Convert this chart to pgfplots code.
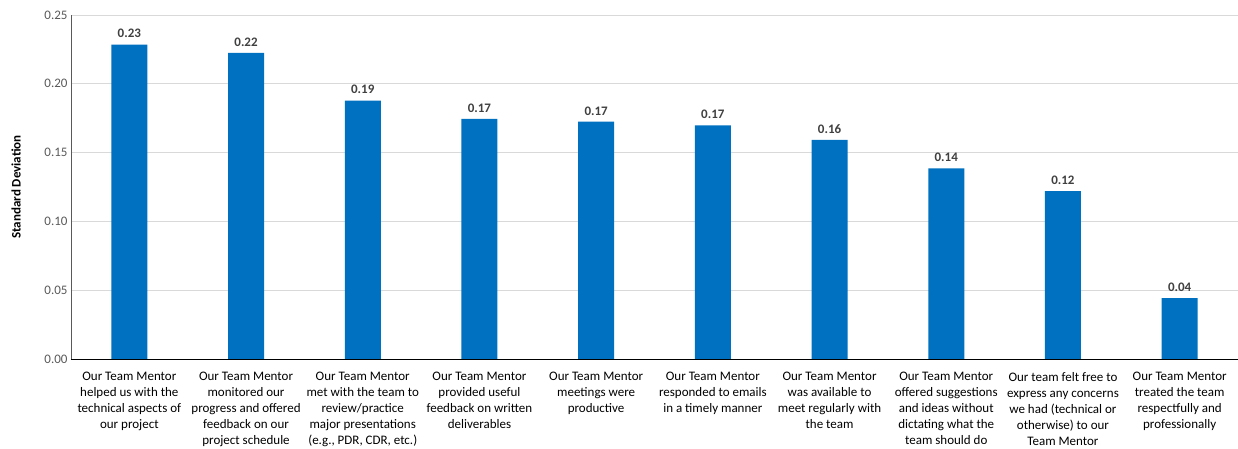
\documentclass[border=0pt]{standalone}
\usepackage{fontspec}
\setmainfont{Carlito}
\usepackage{pgfplots}
\pgfplotsset{compat=1.18}
\definecolor{barblue}{HTML}{0070C0}
\definecolor{gridgray}{HTML}{D9D9D9}
\definecolor{ticktext}{HTML}{595959}
\definecolor{labeltext}{HTML}{404040}
\begin{document}
\begin{tikzpicture}
\begin{axis}[
  name=ax, at={(0pt,0pt)}, anchor=south west,
  scale only axis, width=1167pt, height=344pt,
  xmin=-0.5, xmax=9.5, ymin=0, ymax=0.25,
  ytick={0,0.05,...,0.25},
  yticklabel style={/pgf/number format/fixed,/pgf/number format/fixed zerofill,/pgf/number format/precision=2, font=\fontsize{13}{15}\selectfont, text=ticktext},
  /pgf/number format/assume math mode=true,
  ymajorgrids, grid style={gridgray, line width=0.8pt},
  axis x line*=bottom, axis y line*=left,
  x axis line style={black, line width=0.8pt, -},
  y axis line style={ticktext, line width=0.8pt, -},
  major tick length=0pt,
  xtick={0,...,9},
  xticklabel style={font=\fontsize{13}{16}\selectfont, align=center, text=black, yshift=-10pt},
  xticklabels={
    {Our Team Mentor\\helped us with the\\technical aspects of\\our project},
    {Our Team Mentor\\monitored our\\progress and offered\\feedback on our\\project schedule},
    {Our Team Mentor\\met with the team to\\review/practice\\major presentations\\(e.g., PDR, CDR, etc.)},
    {Our Team Mentor\\provided useful\\feedback on written\\deliverables},
    {Our Team Mentor\\meetings were\\productive},
    {Our Team Mentor\\responded to emails\\in a timely manner},
    {Our Team Mentor\\was available to\\meet regularly with\\the team},
    {Our Team Mentor\\offered suggestions\\and ideas without\\dictating what the\\team should do},
    {Our team felt free to\\express any concerns\\we had (technical or\\otherwise) to our\\Team Mentor},
    {Our Team Mentor\\treated the team\\respectfully and\\professionally}
  },
  ylabel={\bfseries\fontsize{13}{15}\selectfont Standard Deviation},
  every axis y label/.style={at={(-55pt,0.5)}, rotate=90, anchor=center, text=black},
  nodes near coords,
  nodes near coords style={font=\bfseries\fontsize{13}{15}\selectfont, text=labeltext, /pgf/number format/fixed, /pgf/number format/fixed zerofill, /pgf/number format/precision=2, yshift=3pt},
  clip=false,
]
\addplot[ybar, bar width=36pt, fill=barblue, draw=none] coordinates {
  (0,0.2285) (1,0.2225) (2,0.1878) (3,0.1745) (4,0.1725)
  (5,0.1698) (6,0.1592) (7,0.1385) (8,0.1220) (9,0.0442)
};
\end{axis}
\pgfresetboundingbox
\path[use as bounding box] (-71pt,-90pt) rectangle (1167pt,359pt);
\end{tikzpicture}
\end{document}
